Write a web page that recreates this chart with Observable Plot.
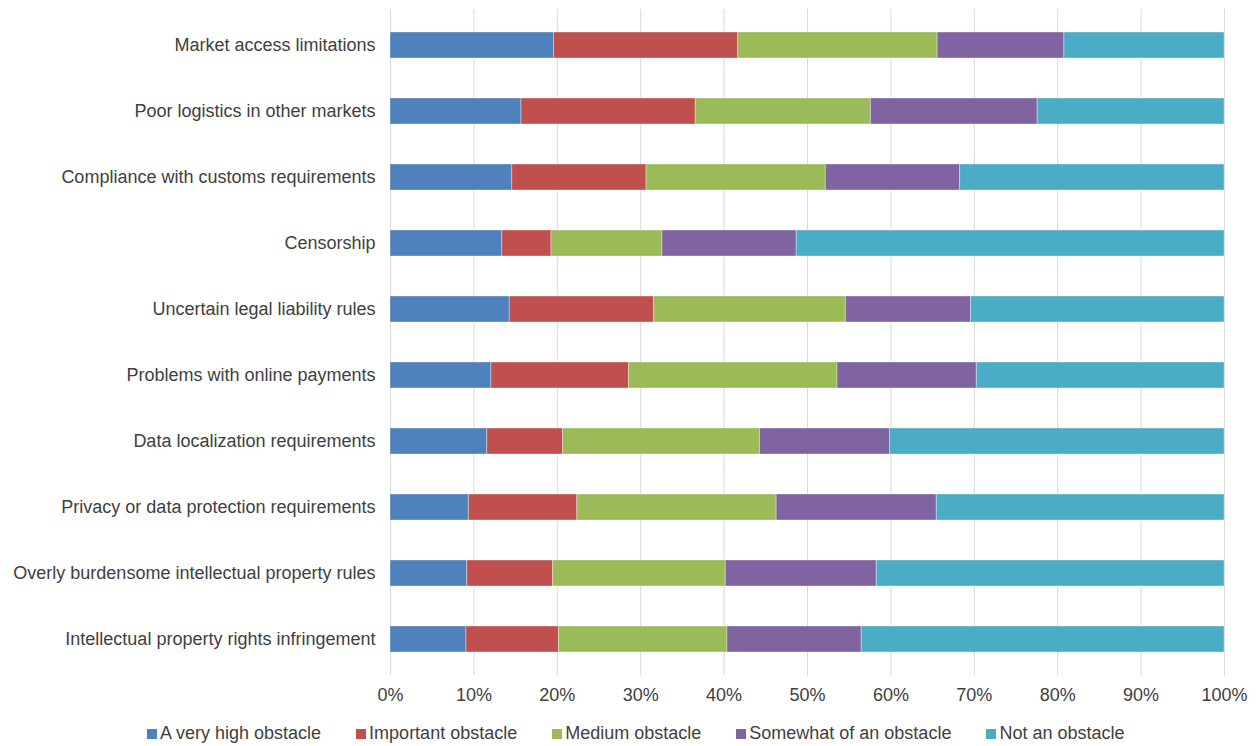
<!DOCTYPE html>
<html>
<head>
<meta charset="utf-8">
<script src="https://cdn.jsdelivr.net/npm/d3@7"></script>
<script src="https://cdn.jsdelivr.net/npm/@observablehq/plot@0.6"></script>
<style>
  body { margin: 0; background: #fff; font-family: "Liberation Sans", Arial, sans-serif; }
  #wrap { position: relative; width: 1256px; height: 746px; }
  #legend { position: absolute; left: 147px; top: 723px; display: flex; gap: 35px; font-size: 18px; color: #404040; white-space: nowrap; }
  #legend .item { display: flex; align-items: center; }
  #legend .sw { width: 10px; height: 10px; margin-right: 3px; }
</style>
</head>
<body>
<div id="wrap"><div id="chart"></div><div id="legend"></div></div>
<script>
const categories = [
  "Market access limitations",
  "Poor logistics in other markets",
  "Compliance with customs requirements",
  "Censorship",
  "Uncertain legal liability rules",
  "Problems with online payments",
  "Data localization requirements",
  "Privacy or data protection requirements",
  "Overly burdensome intellectual property rules",
  "Intellectual property rights infringement"
];
const seriesNames = ["A very high obstacle", "Important obstacle", "Medium obstacle", "Somewhat of an obstacle", "Not an obstacle"];
const seriesColors = ["#4F81BD", "#C0504D", "#9BBB59", "#8064A2", "#4BACC6"];
const veryHigh  = [19.6, 15.7, 14.6, 13.4, 14.3, 12.1, 11.6,  9.4,  9.2,  9.1];
const important = [22.1, 20.9, 16.1,  5.9, 17.3, 16.5,  9.1, 13.0, 10.3, 11.1];
const medium    = [23.9, 21.0, 21.5, 13.3, 23.0, 25.0, 23.6, 23.9, 20.7, 20.2];
const somewhat  = [15.2, 20.0, 16.1, 16.1, 15.0, 16.7, 15.6, 19.2, 18.1, 16.1];
const notAn     = [19.2, 22.4, 31.7, 51.3, 30.4, 29.7, 40.1, 34.5, 41.7, 43.5];
const xTicks = [0, 10, 20, 30, 40, 50, 60, 70, 80, 90, 100];

const seriesValues = [veryHigh, important, medium, somewhat, notAn];
const data = [];
seriesNames.forEach((s, si) => {
  categories.forEach((c, ci) => data.push({category: c, series: s, value: seriesValues[si][ci]}));
});

const chart = Plot.plot({
  width: 1256,
  height: 711,
  marginLeft: 390,
  marginRight: 32,
  marginTop: 9,
  marginBottom: 36,
  style: { fontFamily: "Liberation Sans, Arial, sans-serif", fontSize: "18px", color: "#404040", background: "#fff" },
  x: { domain: [0, 100], ticks: xTicks, tickFormat: d => d + "%", tickSize: 0, tickPadding: 13, label: null },
  y: { domain: categories, paddingInner: 0.6, paddingOuter: 0.3, tickSize: 0, tickPadding: 15, label: null },
  color: { domain: seriesNames, range: seriesColors },
  marks: [
    Plot.ruleX(xTicks, { stroke: "#d9d9d9", strokeWidth: 1 }),
    Plot.barX(data, { y: "category", x: "value", fill: "series", stroke: "#ffffff", strokeOpacity: 0.35, strokeWidth: 1, order: seriesNames })
  ]
});
document.getElementById("chart").appendChild(chart);

const legend = document.getElementById("legend");
seriesNames.forEach((s, i) => {
  const item = document.createElement("div");
  item.className = "item";
  const sw = document.createElement("span");
  sw.className = "sw";
  sw.style.background = seriesColors[i];
  const t = document.createElement("span");
  t.textContent = s;
  item.appendChild(sw); item.appendChild(t);
  legend.appendChild(item);
});
</script>
</body>
</html>
